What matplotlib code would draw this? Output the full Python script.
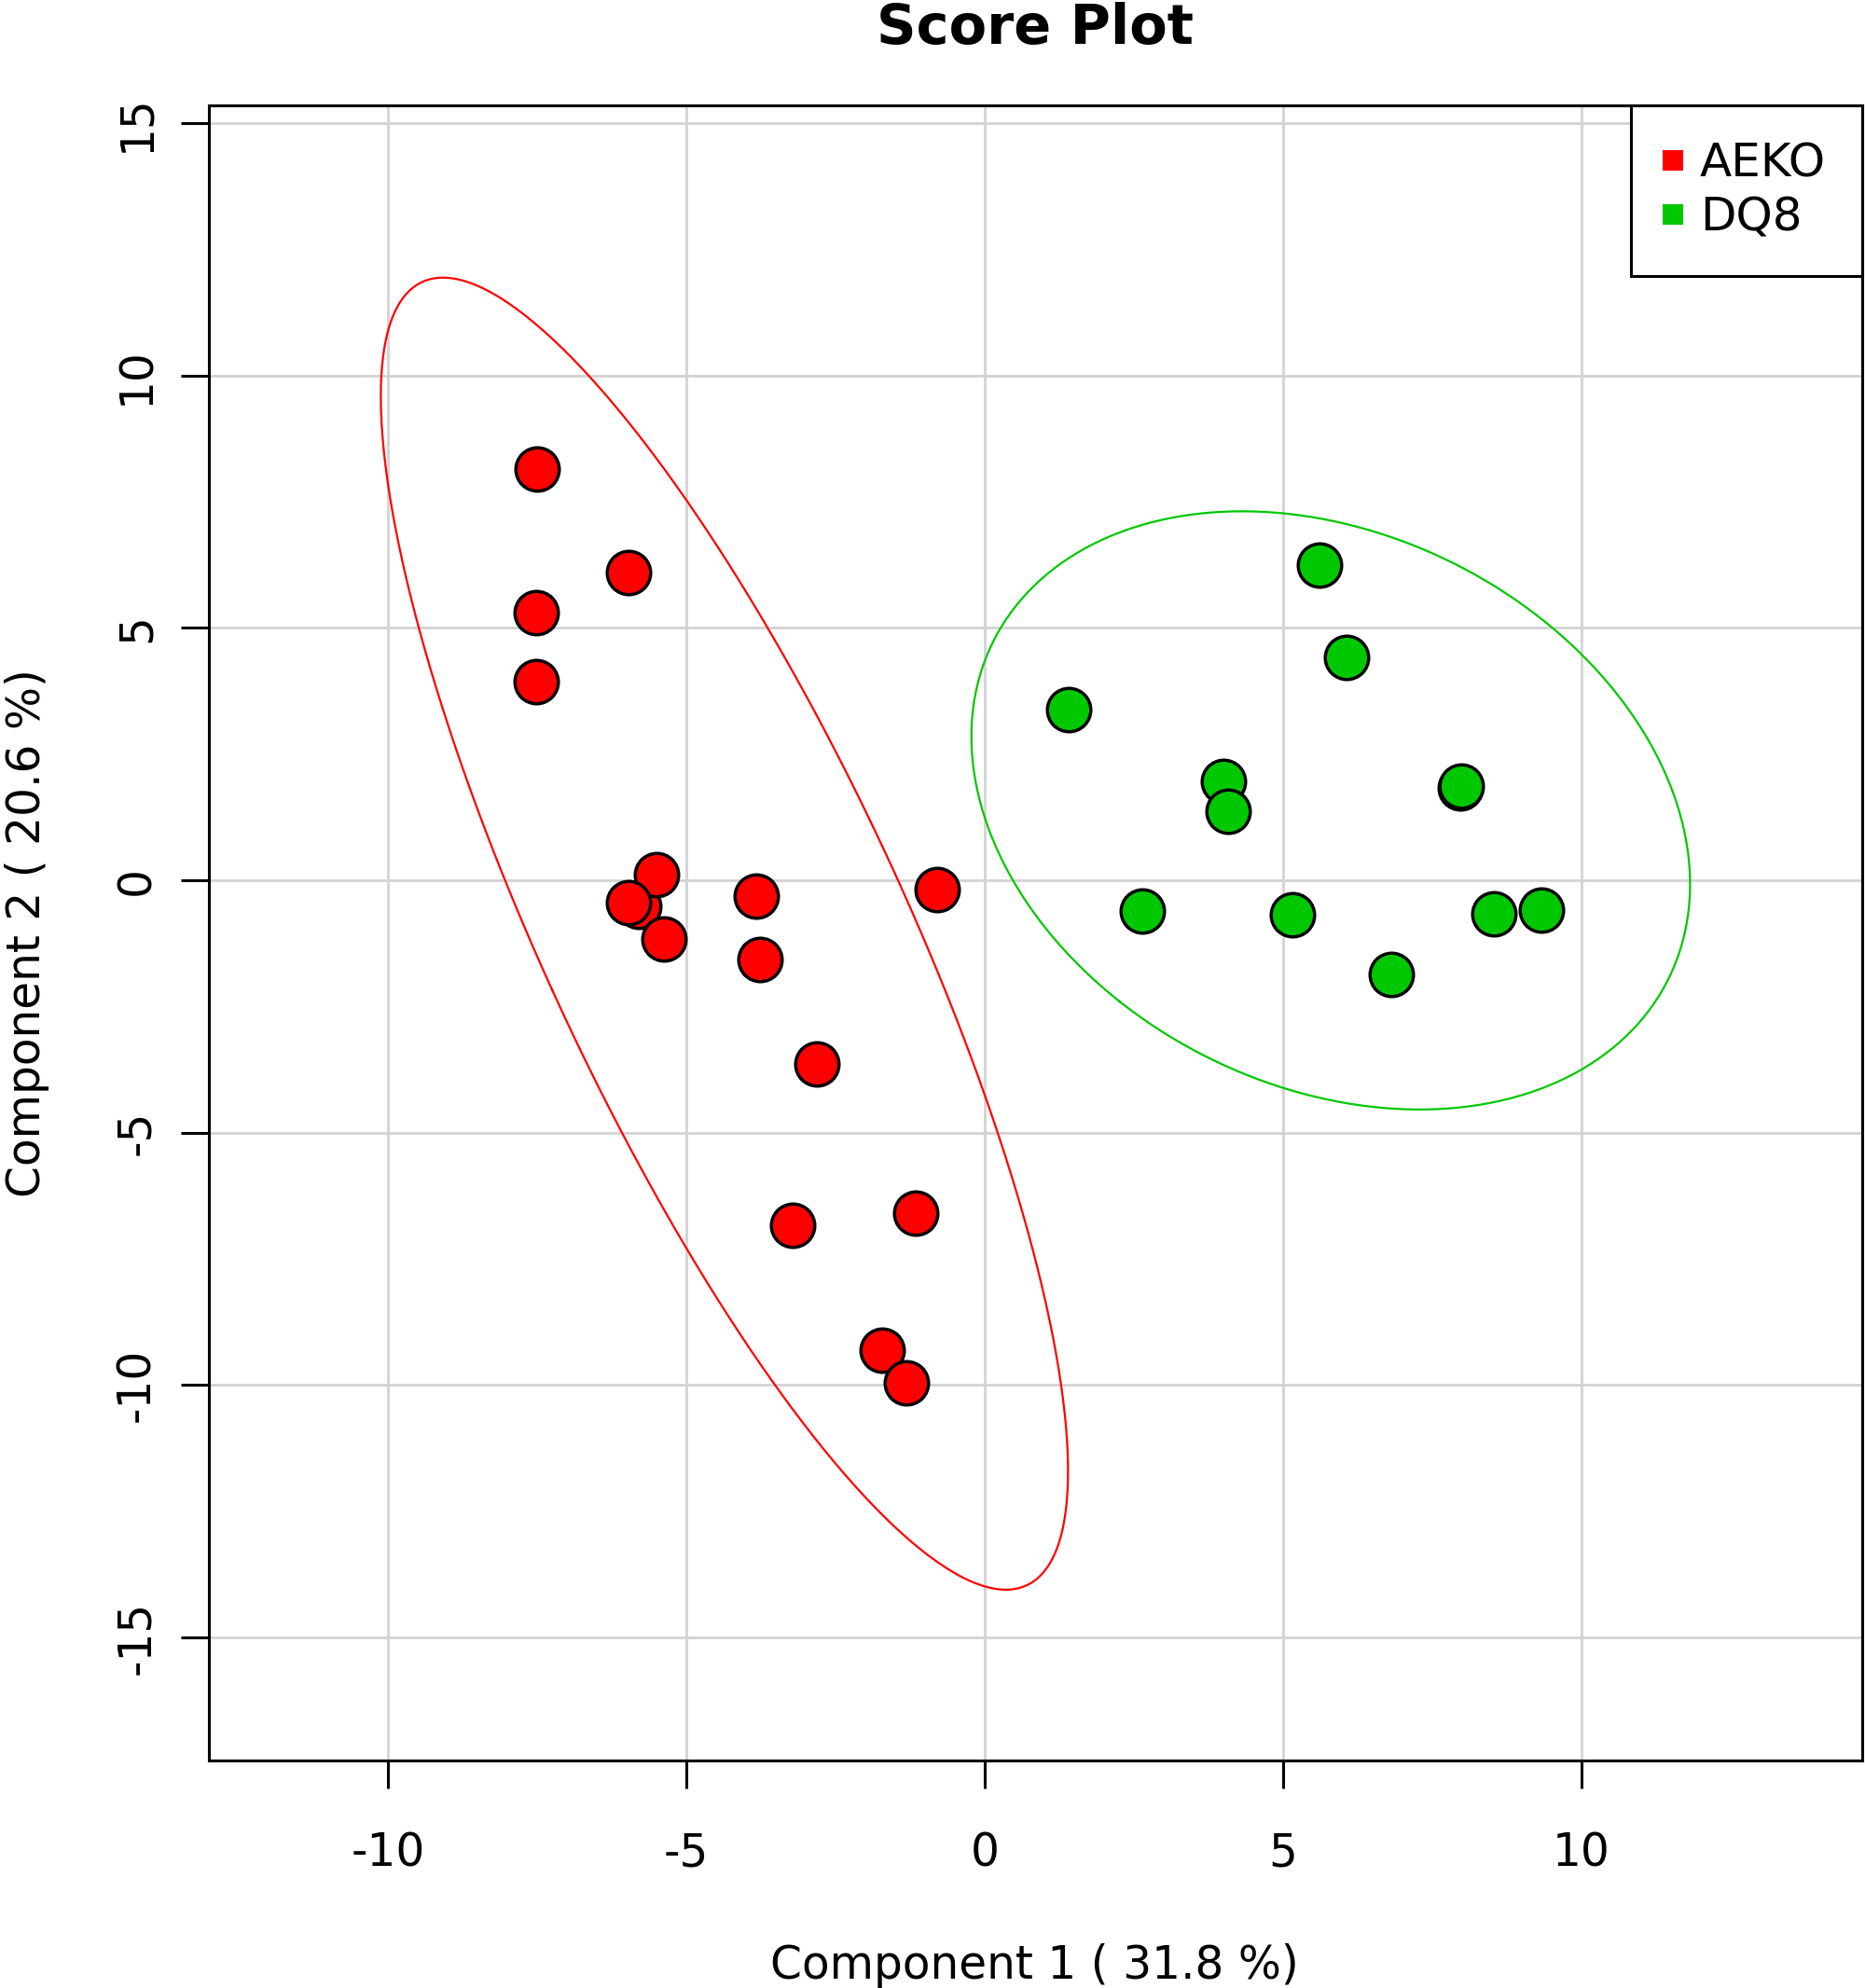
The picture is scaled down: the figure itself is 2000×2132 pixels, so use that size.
import numpy as np
import matplotlib
matplotlib.use("Agg")
import matplotlib.pyplot as plt
from matplotlib.lines import Line2D

plt.rcParams["axes.unicode_minus"] = False  # R draws a plain hyphen

# ── Scores ────────────────────────────────────────────────────────────────────
groups = ["AEKO", "DQ8"]
colors = ["#FF0000", "#00C800"]

aeko_x = [-7.50, -5.97, -7.52, -7.52, -5.80, -5.50, -5.97, -5.38, -3.83, -3.76,
          -0.80, -2.81, -3.21, -1.16, -1.71, -1.31]
aeko_y = [8.15, 6.09, 5.31, 3.93, -0.51, 0.11, -0.44, -1.17, -0.31, -1.57,
          -0.19, -3.63, -6.84, -6.59, -9.30, -9.96]

dq8_x = [5.61, 6.06, 1.41, 4.00, 4.08, 7.98, 7.99, 2.64, 5.16, 6.82, 8.54, 9.34]
dq8_y = [6.24, 4.41, 3.38, 1.95, 1.37, 1.82, 1.87, -0.61, -0.69, -1.87, -0.67, -0.59]

pc1_var = 31.8
pc2_var = 20.6

FS = 35


def conf_ellipse(x, y, level=0.95, n=400):
    """95% ellipse from the sample covariance (chi-square, 2 df)."""
    x = np.asarray(x); y = np.asarray(y)
    t = np.sqrt(-2 * np.log(1 - level))
    vals, vecs = np.linalg.eigh(np.cov(x, y))
    th = np.linspace(0, 2 * np.pi, n)
    circ = np.vstack([np.cos(th), np.sin(th)])
    pts = vecs @ (np.sqrt(vals)[:, None] * circ) * t
    return x.mean() + pts[0], y.mean() + pts[1]


fig = plt.figure(figsize=(20, 21.32), dpi=100)
ax = fig.add_axes([0.112, 0.1146, 0.8865, 0.8324])

ax.set_xlim(-13.0, 14.71)
ax.set_ylim(-17.43, 15.35)
ax.set_xticks([-10, -5, 0, 5, 10])
ax.set_yticks([-15, -10, -5, 0, 5, 10, 15])
ax.grid(True, color="#D3D3D3", linewidth=2.0)
ax.set_axisbelow(True)

for xs, ys, c in [(aeko_x, aeko_y, colors[0]), (dq8_x, dq8_y, colors[1])]:
    ex, ey = conf_ellipse(xs, ys)
    ax.plot(ex, ey, color=c, linewidth=1.6, zorder=2)

for xs, ys, c in [(aeko_x, aeko_y, colors[0]), (dq8_x, dq8_y, colors[1])]:
    ax.plot(xs, ys, linestyle="none", marker="o", markersize=33.5,
            markerfacecolor=c, markeredgecolor="black", markeredgewidth=2.5,
            zorder=3)

for sp in ax.spines.values():
    sp.set_linewidth(2.2)

ax.tick_params(axis="both", length=21.6, width=2.2, labelsize=FS, pad=33)
ax.tick_params(axis="y", pad=17)
plt.setp(ax.get_yticklabels(), rotation=90, va="center")

ax.set_title("Score Plot", fontsize=42.5, fontweight="bold", pad=47.5)
fig.text(0.5547, 1 - 2121.7 / 2132, f"Component 1 ( {pc1_var} %)",
         fontsize=FS, ha="center", va="baseline")
fig.text(42.7 / 2000, 0.5306, f"Component 2 ( {pc2_var} %)",
         fontsize=FS, ha="center", va="baseline", rotation=90,
         rotation_mode="anchor")

handles = [Line2D([], [], linestyle="none", marker="s", markersize=16,
                  markerfacecolor=c, markeredgewidth=0) for c in colors]
leg = ax.legend(handles, groups, loc="upper right", fontsize=36,
                borderaxespad=0, borderpad=0.78, labelspacing=0.19,
                handlelength=0.25, handletextpad=0.45,
                fancybox=False, framealpha=1, edgecolor="black")
leg.get_frame().set_linewidth(2.2)

fig.savefig("out.png", dpi=100)
